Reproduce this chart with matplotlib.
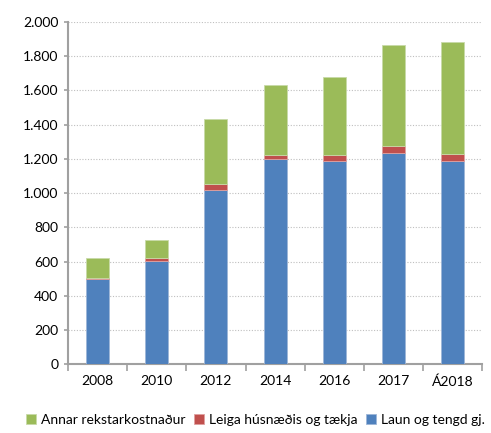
import matplotlib
matplotlib.use("Agg")
import matplotlib.pyplot as plt
import numpy as np
from matplotlib.ticker import FuncFormatter, FixedLocator

plt.rcParams['font.family'] = ['Lato', 'DejaVu Sans']

categories = ["2008", "2010", "2012", "2014", "2016", "2017", "Á2018"]
laun = [495, 604, 1020, 1197, 1188, 1232, 1188]
leiga = [10, 17, 35, 25, 33, 42, 40]
annar = [115, 102, 380, 413, 458, 590, 654]

c_blue = "#4F81BD"
c_red = "#C0504D"
c_green = "#9BBB59"

fig = plt.figure(figsize=(4.91, 4.33), dpi=100)
ax = fig.add_axes([0.1385, 0.159, 0.8435, 0.790])

x = np.arange(len(categories))
w = 0.39
b1 = ax.bar(x, laun, w, color=c_blue, edgecolor="#9DB6D8", linewidth=0.6, label="Laun og tengd gj.", zorder=3)
b2 = ax.bar(x, leiga, w, bottom=laun, color=c_red, edgecolor="#E0A0A0", linewidth=0.6, label="Leiga húsnæðis og tækja", zorder=3)
bot2 = np.array(laun) + np.array(leiga)
b3 = ax.bar(x, annar, w, bottom=bot2, color=c_green, edgecolor="#C8DAA8", linewidth=0.6, label="Annar rekstarkostnaður", zorder=3)

ax.set_xlim(-0.5, len(categories) - 0.5)
ax.set_ylim(0, 2000)
ax.set_yticks(np.arange(0, 2001, 200))
ax.yaxis.set_major_formatter(FuncFormatter(lambda v, p: f"{int(v):,}".replace(",", ".")))
ax.grid(axis="y", color="#BFBFBF", linestyle=(0, (1, 1.5)), linewidth=0.8, zorder=0)

ax.xaxis.set_major_locator(FixedLocator(np.arange(-0.5, len(categories), 1)))
ax.xaxis.set_major_formatter(plt.NullFormatter())
ax.xaxis.set_minor_locator(FixedLocator(x))
ax.set_xticklabels(categories, minor=True)
ax.tick_params(axis="x", which="major", length=5, color="#A0A0A0", width=1.2, direction="out")
ax.tick_params(axis="x", which="minor", length=0, pad=8, labelsize=10, labelcolor="black")
ax.tick_params(axis="y", length=3, color="#A0A0A0", width=1.2, labelsize=10, pad=4)

for s in ["top", "right"]:
    ax.spines[s].set_visible(False)
for s in ["left", "bottom"]:
    ax.spines[s].set_color("#A0A0A0")
    ax.spines[s].set_linewidth(1.5)

fig.legend(handles=[b3, b2, b1], loc="center", bbox_to_anchor=(0.52, 0.031), ncol=3,
           frameon=False, fontsize=10, handlelength=0.75, handleheight=0.75,
           handletextpad=0.35, columnspacing=0.6, borderpad=0, borderaxespad=0)

fig.savefig("out.png", dpi=100)
